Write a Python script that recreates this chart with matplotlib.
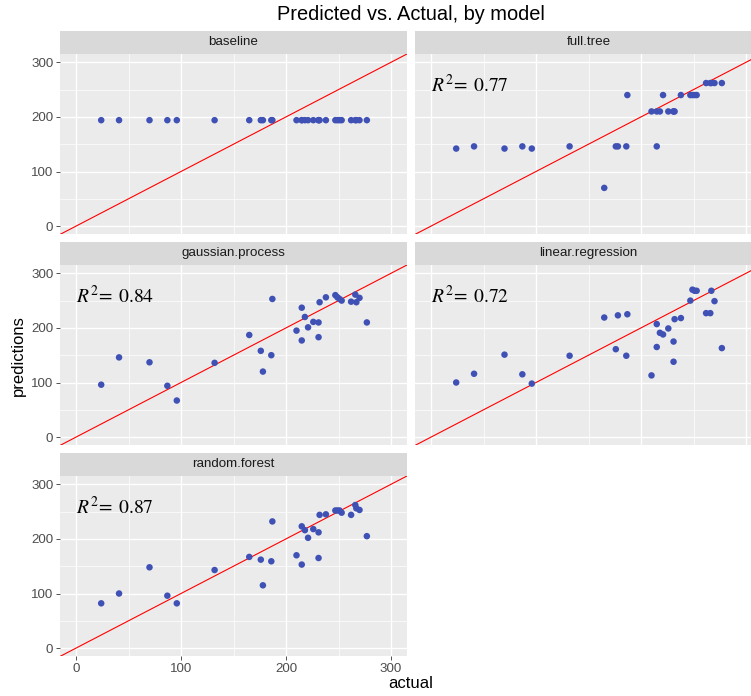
import matplotlib
matplotlib.use("Agg")
import matplotlib.pyplot as plt

plt.rcParams['font.family'] = ['Liberation Sans', 'DejaVu Sans']
plt.rcParams['mathtext.fontset'] = 'stix'

# valores observados (iguales en todos los paneles)
actual = [24, 41, 70, 87, 96, 132, 165, 176, 178, 186, 187, 210, 215, 215, 218,
          221, 226, 231, 231, 232, 238, 247, 249, 251, 253, 262, 266, 267, 270, 277]

# predicciones de cada modelo
baseline = [194, 194, 194, 194, 194, 194, 194, 194, 194, 194, 194, 194, 194, 194, 194,
            194, 194, 194, 194, 194, 194, 194, 194, 194, 194, 194, 194, 194, 194, 194]
full_tree = [142, 146, 142, 146, 142, 146, 70, 146, 146, 146, 240, 210, 210, 146, 210,
             240, 210, 210, 210, 210, 240, 240, 240, 240, 240, 262, 262, 262, 262, 262]
gaussian_process = [96, 146, 137, 94, 67, 136, 187, 158, 120, 150, 253, 195, 237, 177, 220,
                    201, 211, 210, 183, 247, 256, 260, 256, 253, 250, 248, 261, 247, 255, 210]
linear_regression = [100, 116, 151, 115, 98, 149, 219, 161, 223, 149, 225, 113, 207, 165, 191,
                     188, 199, 175, 138, 216, 218, 250, 270, 268, 268, 227, 227, 268, 249, 163]
random_forest = [82, 100, 148, 96, 82, 143, 167, 162, 115, 159, 232, 170, 223, 153, 216,
                 202, 218, 212, 165, 244, 245, 252, 252, 252, 248, 244, 262, 256, 253, 205]

models = ["baseline", "full.tree", "gaussian.process", "linear.regression", "random.forest"]
preds = [baseline, full_tree, gaussian_process, linear_regression, random_forest]
r2 = [None, 0.77, 0.84, 0.72, 0.87]

W, H = 751, 696
fig = plt.figure(figsize=(W / 100, H / 100), dpi=100)

# posiciones de los paneles en pixeles
col_left = [60.25, 415.25]
panel_w = 346.5
row_top = [54.1, 265.1, 476.1]
panel_h = 180.2
strip_h = 23.5

lims = (-15, 315)

for k, (name, p) in enumerate(zip(models, preds)):
    r, c = divmod(k, 2)
    x0 = col_left[c]
    y0 = row_top[r]
    ax = fig.add_axes([x0 / W, 1 - (y0 + panel_h) / H, panel_w / W, panel_h / H])
    ax.set_facecolor('#EBEBEB')
    for s in ax.spines.values():
        s.set_visible(False)
    ax.set_xlim(lims)
    ax.set_ylim(lims)
    ax.set_xticks([0, 100, 200, 300])
    ax.set_yticks([0, 100, 200, 300])
    ax.set_xticks([50, 150, 250], minor=True)
    ax.set_yticks([50, 150, 250], minor=True)
    ax.grid(which='major', color='white', linewidth=1.0)
    ax.grid(which='minor', color='white', linewidth=0.5)
    ax.set_axisbelow(True)
    ax.tick_params(which='minor', length=0)
    ax.tick_params(which='major', length=3, width=0.6, color='#333333',
                   labelcolor='#4D4D4D', labelsize=9.6, pad=2)
    ax.tick_params(left=(c == 0), labelleft=(c == 0),
                   bottom=(k == 4), labelbottom=(k == 4))

    ax.axline((0, 0), slope=1, color='#FF0000', linewidth=0.8, zorder=2)
    ax.scatter(actual, p, s=22, color='#3F51B5', edgecolors='none', zorder=3)
    if r2[k] is not None:
        ax.text(0, 258, r'$R^{2}\!=\;%.2f$' % r2[k], fontsize=14, ha='left', va='center')

    sax = fig.add_axes([x0 / W, 1 - y0 / H, panel_w / W, strip_h / H])
    sax.set_facecolor('#D9D9D9')
    sax.set_xticks([])
    sax.set_yticks([])
    for s in sax.spines.values():
        s.set_visible(False)
    sax.text(0.5, 0.5, name, ha='center', va='center', fontsize=9.6, color='#1A1A1A',
             transform=sax.transAxes)

fig.text(411 / W, 1 - 14 / H, "Predicted vs. Actual, by model", ha='center', va='center',
         fontsize=14.4, color='black')
fig.text(411 / W, 1 - 684 / H, "actual", ha='center', va='center', fontsize=12)
fig.text(18 / W, 1 - 356 / H, "predictions", ha='center', va='center', fontsize=12,
         rotation=90)

fig.savefig("out.png", dpi=100)
